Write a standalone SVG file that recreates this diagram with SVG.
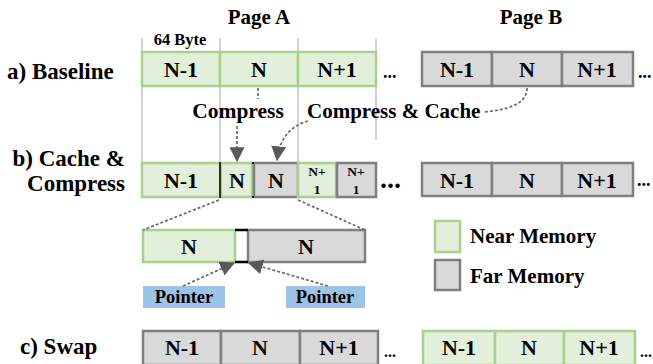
<svg xmlns="http://www.w3.org/2000/svg" width="653" height="364" viewBox="0 0 653 364">
<defs>
<style>
text{font-family:"Liberation Serif","Times New Roman",serif;font-weight:bold;fill:#000}
.g{fill:#e2efda;stroke:#a9d18e;stroke-width:2.5}
.f{fill:#d9d9d9;stroke:#7f7f7f;stroke-width:2.5}
.guide{stroke:#c4c4c4;stroke-width:1.5;fill:none}
.dash{stroke:#6f6f6f;stroke-width:1.8;stroke-dasharray:3 2;fill:none}
.c{text-anchor:middle}
.cell{font-size:22px;text-anchor:middle}
.lbl{font-size:23px}
.ptr{fill:#9dc3e6}
</style>
<marker id="ah" viewBox="0 0 12 12" refX="11" refY="6" markerWidth="15" markerHeight="15" markerUnits="userSpaceOnUse" orient="auto">
<path d="M0,0 L12,6 L0,12 Z" fill="#595959"/>
</marker>
</defs>

<g id="guides">
<line class="guide" x1="142" y1="38" x2="142" y2="163"/>
<line class="guide" x1="220" y1="38" x2="220" y2="163"/>
<line class="guide" x1="298" y1="38" x2="298" y2="163"/>
<line class="guide" x1="376" y1="38" x2="376" y2="140"/>
</g>

<text x="259" y="24" class="c" font-size="21">Page A</text>
<text x="531" y="24" class="c" font-size="21">Page B</text>
<text x="180" y="45" class="c" font-size="16.5">64 Byte</text>

<g id="rowA">
<text x="7" y="79" class="lbl">a) Baseline</text>
<rect class="g" x="142" y="52" width="78" height="34"/>
<rect class="g" x="220" y="52" width="78" height="34"/>
<rect class="g" x="298" y="52" width="78" height="34"/>
<text x="181" y="77" class="cell">N-1</text>
<text x="259" y="77" class="cell">N</text>
<text x="337" y="77" class="cell">N+1</text>
<text x="383" y="78" font-size="18">...</text>
</g>
<g id="rowA-pageB">
<rect class="f" x="422" y="52" width="70" height="34"/>
<rect class="f" x="492" y="52" width="70" height="34"/>
<rect class="f" x="562" y="52" width="71" height="34"/>
<text x="457" y="77" class="cell" font-size="23">N-1</text>
<text x="527" y="77" class="cell" font-size="23">N</text>
<text x="597" y="77" class="cell" font-size="23">N+1</text>
<text x="638" y="78" font-size="18">...</text>
</g>

<g id="rowB">
<text x="125" y="166" class="lbl" text-anchor="end">b) Cache &amp;</text>
<text x="125" y="191" class="lbl" text-anchor="end">Compress</text>
<rect class="g" x="142" y="163" width="78" height="34"/>
<rect class="g" x="221" y="163" width="31" height="34"/>
<rect class="f" x="254" y="163" width="44" height="34"/>
<rect class="g" x="298" y="163" width="38" height="34"/>
<rect class="f" x="337" y="163" width="39" height="34"/>
<line x1="220" y1="162" x2="220" y2="198" stroke="#000" stroke-width="1.5"/>
<rect x="252" y="162" width="2" height="2" fill="#000"/>
<rect x="252" y="196" width="2" height="2" fill="#000"/>
<text x="181" y="188" class="cell">N-1</text>
<text x="237" y="188" class="cell">N</text>
<text x="276" y="188" class="cell">N</text>
<text x="317" y="176" class="c" font-size="13.5">N+</text>
<text x="317" y="194" class="c" font-size="13.5">1</text>
<text x="356" y="176" class="c" font-size="13.5">N+</text>
<text x="356" y="194" class="c" font-size="13.5">1</text>
<text x="380" y="188" font-size="28">...</text>
</g>
<g id="rowB-pageB">
<rect class="f" x="422" y="163" width="70" height="33"/>
<rect class="f" x="492" y="163" width="70" height="33"/>
<rect class="f" x="562" y="163" width="71" height="33"/>
<text x="457" y="188" class="cell" font-size="24">N-1</text>
<text x="527" y="188" class="cell" font-size="24">N</text>
<text x="597" y="188" class="cell" font-size="24">N+1</text>
<text x="637" y="186" font-size="18">...</text>
</g>

<g id="detail">
<rect class="g" x="143" y="230" width="92" height="32"/>
<rect class="f" x="248" y="230" width="117" height="32"/>
<line x1="235" y1="230" x2="248" y2="230" stroke="#000" stroke-width="2.5"/>
<line x1="235" y1="262" x2="248" y2="262" stroke="#000" stroke-width="2.5"/>
<text x="189" y="254" class="cell">N</text>
<text x="306" y="254" class="cell">N</text>
</g>
<g id="pointer-left">
<rect class="ptr" x="143" y="286" width="82" height="22"/>
<text x="184" y="303" class="c" font-size="18.5">Pointer</text>
</g>
<g id="pointer-right">
<rect class="ptr" x="286" y="286" width="79" height="22"/>
<text x="325" y="303" class="c" font-size="18.5">Pointer</text>
</g>

<g id="legend-near">
<rect class="g" x="435" y="221" width="25" height="31"/>
<text x="470" y="243" font-size="21">Near Memory</text>
</g>
<g id="legend-far">
<rect class="f" x="435" y="260" width="25" height="30"/>
<text x="470" y="283" font-size="21">Far Memory</text>
</g>

<g id="rowC">
<text x="20" y="354" class="lbl">c) Swap</text>
<rect class="f" x="143" y="331" width="78" height="34"/>
<rect class="f" x="221" y="331" width="79" height="34"/>
<rect class="f" x="300" y="331" width="78" height="34"/>
<text x="182" y="355" class="cell" font-size="21">N-1</text>
<text x="260" y="355" class="cell" font-size="21">N</text>
<text x="339" y="355" class="cell" font-size="21">N+1</text>
<text x="384" y="357" font-size="16">...</text>
</g>
<g id="rowC-pageB">
<rect class="g" x="423" y="331" width="72" height="34"/>
<rect class="g" x="495" y="331" width="69" height="34"/>
<rect class="g" x="564" y="331" width="71" height="34"/>
<text x="459" y="355" class="cell" font-size="21">N-1</text>
<text x="529" y="355" class="cell" font-size="21">N</text>
<text x="599" y="355" class="cell" font-size="21">N+1</text>
<text x="640" y="357" font-size="16">...</text>
</g>

<text x="238" y="118" class="c" font-size="21.5">Compress</text>
<text x="307" y="118" font-size="21">Compress &amp; Cache</text>

<g id="connectors">
<line class="dash" x1="258" y1="88" x2="258" y2="99"/>
<line class="dash" x1="237" y1="126" x2="237" y2="161" marker-end="url(#ah)"/>
<path class="dash" d="M527,88 C527,104 508,110 483,112"/>
<path class="dash" d="M308,121 C292,126 280,136 277,160" marker-end="url(#ah)"/>
<line class="dash" x1="219" y1="200" x2="143" y2="230"/>
<line class="dash" x1="298" y1="200" x2="365" y2="230"/>
<line class="dash" x1="183" y1="286" x2="234" y2="263" marker-end="url(#ah)"/>
<line class="dash" x1="328" y1="286" x2="249" y2="263" marker-end="url(#ah)"/>
</g>
</svg>
